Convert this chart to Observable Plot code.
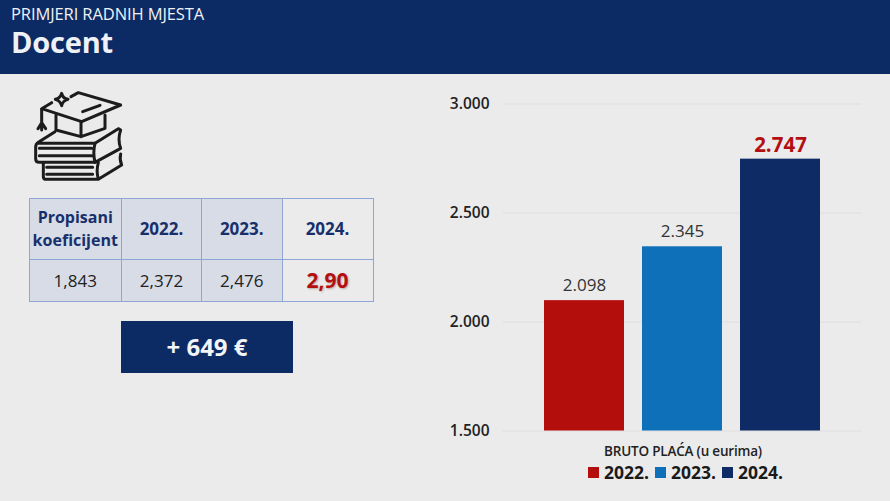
<!DOCTYPE html>
<html>
<head>
<meta charset="utf-8">
<script src="https://cdn.jsdelivr.net/npm/d3@7"></script>
<script src="https://cdn.jsdelivr.net/npm/@observablehq/plot@0.6"></script>
<style>
html,body{margin:0;padding:0;width:890px;height:501px;overflow:hidden;background:#ebebeb;font-family:"Open Sans",sans-serif;}
.abs{position:absolute;}
#hdr{left:0;top:0;width:890px;height:74px;background:#0c2b64;color:#eef1f6;}
#hdr .s{position:absolute;left:11px;top:3px;font-size:16.5px;line-height:22px;letter-spacing:-.1px;white-space:nowrap;}
#hdr .t{position:absolute;left:11px;top:23px;font-size:29px;line-height:38px;font-weight:700;letter-spacing:-.2px;}
#tbl{left:28.5px;top:197.5px;border-collapse:collapse;table-layout:fixed;width:344px;height:103px;}
#tbl td{border:1.5px solid #8ea6d6;padding:0;text-align:center;color:#222;font-size:17px;background:#d7dce6;}
#tbl td.h{color:#17306b;font-weight:700;font-size:17px;line-height:23px;}
#tbl td.h.f{font-size:16px;}
#tbl td.l{background:#ebebeb;}
#tbl td.r{color:#b30f10;font-weight:700;font-size:21px;text-shadow:1px 1px 2px #b9a9a9;}
#box{left:121px;top:321px;width:172px;height:52px;background:#0c2b64;color:#f2f4f8;font-weight:700;font-size:24px;line-height:52px;text-align:center;}
#plot{left:0;top:0;}
#cap{left:503px;width:360px;top:441px;text-align:center;font-size:13.5px;font-weight:600;color:#222;line-height:20px;letter-spacing:-.2px;}
#leg{left:588px;top:461px;height:22px;display:flex;align-items:center;font-size:17.5px;font-weight:700;color:#1a1a1a;line-height:20px;}
#leg div{width:67px;display:flex;align-items:center;}
#leg i{display:inline-block;width:11px;height:11px;margin-right:5px;flex:none;}
</style>
</head>
<body>
<div id="hdr" class="abs"><div class="s" id="sub"></div><div class="t" id="ttl"></div></div>
<svg class="abs" style="left:0;top:80px" width="400" height="103" viewBox="0 0 1200 309" fill="none" stroke="#1c1c1c" stroke-width="9" stroke-linecap="round" stroke-linejoin="round">
<path d="M155 68L125 86L245 125L362 75L235 38L213 50"/>
<path d="M168 105V150L243 170L315 145V105M243 125V170M248 95L300 76"/>
<path d="M125 88V128M125 128L114 146M125 128V150M125 128L137 146"/>
<path d="M185 40Q188 55 204 58Q188 62 185 77Q181 62 166 58Q181 55 185 40Z"/>
<path d="M165 155L115 187Q107 192 107 202V236Q107 247 118 247H285L362 205Q352 178 362 150L355 146L285 190H115"/>
<path d="M285 190Q278 218 285 247M118 205H275M118 227H275"/>
<path d="M130 248V290Q130 298 140 298H295L365 255Q358 238 362 222M295 298Q288 272 295 248M140 262H278M140 283H278"/>
</svg>
<table id="tbl" class="abs"></table>
<div id="box" class="abs"></div>
<div id="plot" class="abs"></div>
<div id="cap" class="abs"></div>
<div id="leg" class="abs"></div>
<script>
const subtitle = "PRIMJERI RADNIH MJESTA";
const title = "Docent";
const years = ["2022.", "2023.", "2024."];
const gross = [2098, 2345, 2747];
const colors = ["#b30d0c", "#0e70b8", "#0e2b66"];
const yTicks = [1500, 2000, 2500, 3000];
const coefLabel = "Propisani<br>koeficijent";
const coefficients = ["1,843", "2,372", "2,476", "2,90"];
const increase = "+ 649 €";
const axisTitle = "BRUTO PLAĆA (u eurima)";

document.getElementById("sub").textContent = subtitle;
document.getElementById("ttl").textContent = title;
document.getElementById("box").textContent = increase;
document.getElementById("cap").textContent = axisTitle;

const colW = [92.5, 80, 80.5, 91];
document.getElementById("tbl").innerHTML =
  "<colgroup>" + colW.map(w => `<col style="width:${w}px">`).join("") + "</colgroup>" +
  `<tr style="height:61.5px"><td class="h f">${coefLabel}</td>` +
  years.map((y, i) => `<td class="h${i === 2 ? " l" : ""}">${y}</td>`).join("") + "</tr>" +
  `<tr style="height:41.5px">` +
  coefficients.map((c, i) => `<td class="${i === 3 ? "l r" : ""}">${c}</td>`).join("") + "</tr>";

document.getElementById("leg").innerHTML =
  years.map((y, i) => `<div><i style="background:${colors[i]}"></i>${y}</div>`).join("");

const rows = years.map((year, i) => ({year, value: gross[i]}));
const fmt = d3.formatLocale({decimal: ",", thousands: ".", grouping: [3], currency: ["", "€"]}).format(",d");

const chart = Plot.plot({
  width: 890,
  height: 440,
  marginLeft: 502.5,
  marginRight: 28.5,
  marginTop: 103.5,
  marginBottom: 9.5,
  style: {background: "transparent", fontFamily: '"Open Sans",sans-serif', overflow: "visible"},
  x: {domain: years, paddingInner: 0.188, paddingOuter: 0.4165, axis: null},
  y: {domain: [1500, 3000], axis: null},
  color: {domain: years, range: colors},
  marks: [
    Plot.ruleY(yTicks, {stroke: "#dfdfdf", strokeWidth: 1}),
    Plot.barY(rows, {x: "year", y1: 1500, y2: "value", fill: "year"}),
    Plot.axisY({
      ticks: yTicks, tickSize: 0, tickPadding: 13.5, label: null, tickFormat: fmt,
      fontSize: 15.5, fontWeight: 600, fill: "#222"
    }),
    Plot.text(rows.slice(0, 2), {
      x: "year", y: "value", text: d => fmt(d.value), dy: -15,
      fontSize: 17, fontWeight: 500, fill: "#333"
    }),
    Plot.text(rows.slice(2), {
      x: "year", y: "value", text: d => fmt(d.value), dy: -14,
      fontSize: 20.5, fontWeight: 700, fill: "#b30f10"
    })
  ]
});
document.getElementById("plot").appendChild(chart);
</script>
</body>
</html>
